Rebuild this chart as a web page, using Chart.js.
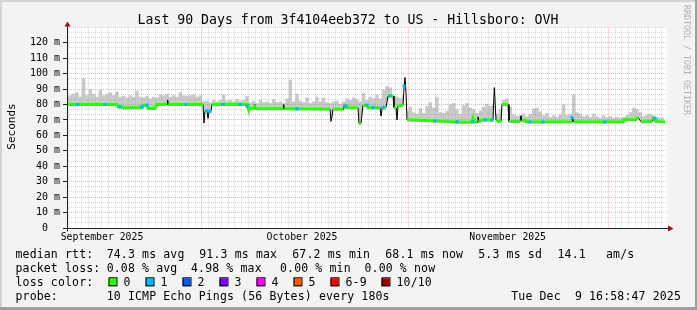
<!DOCTYPE html>
<html><head><meta charset="utf-8">
<script src="https://cdn.jsdelivr.net/npm/chart.js@4/dist/chart.umd.min.js"></script>
<style>html,body{margin:0;padding:0;background:#f3f3f3;}canvas{display:block;}</style>
</head><body>
<canvas id="c" width="697" height="310" style="width:697px;height:310px"></canvas>
<script>
// ---------- data ----------
const chartTitle = 'Last 90 Days from 3f4104eeb372 to US - Hillsboro: OVH';
const yAxisTitle = 'Seconds';
const monthLabels = ['September 2025', 'October 2025', 'November 2025'];
const monthLabelDays = [5.25, 35.25, 66.1];      // days since start of window
const monthStartDays = [20.2, 51.2, 81.2];       // Oct 1, Nov 1, Dec 1
const firstMidnight = 0.2;                         // first daily grid line
const yMax = 130;

// smoke (max rtt envelope), one value every half day
const smokeStep = 0.5;
const smokeMax = [
  85, 86, 87, 88, 85, 97, 86, 90, 87, 85,
  89.5, 86, 87, 88, 86, 88.5, 85, 85.5, 84.5, 86,
  85, 89, 85, 84.5, 85.5, 84, 85, 84.5, 86.5, 86,
  87, 85, 86, 85, 88, 86, 85.5, 86, 86.5, 85,
  86, 82, 82.5, 81.5, 83, 82, 83, 86.5, 82.5, 83,
  82, 83.5, 82.5, 83, 85.5, 81.5, 82.5, 81, 83, 81.5,
  82, 81, 83.5, 81.5, 82, 81, 84, 96, 82, 87,
  82.5, 81.5, 84.5, 81, 82, 85, 82, 84.5, 81.5, 81,
  82, 82.5, 80.5, 82, 84, 83, 84.5, 83.5, 82, 87.5,
  83, 85, 84, 86.5, 84, 89.5, 92, 91, 86, 85,
  84, 86, 76, 78.5, 75, 74, 77.5, 74.5, 79, 81.5,
  78, 85, 75, 74.5, 76, 80, 81, 77, 74, 79.5,
  81, 78, 77, 74.5, 76, 78.5, 80.5, 79, 80, 74,
  77, 83, 84, 78.5, 73.5, 72.5, 73, 74, 72.5, 74,
  77.5, 78, 75.5, 73, 74.5, 72, 73, 72, 73.5, 80,
  73, 74, 86.5, 75, 74, 72.5, 73, 72, 74, 72.5,
  71.5, 73, 72, 72.5, 71.5, 72, 71.5, 72, 73, 75,
  78, 77, 75, 72.5, 73.5, 74, 73, 72, 71.5, 72
];

// median rtt (ms) at change points
const medDay = [
  0, 7.5, 7.65, 8.25, 8.4, 11.25, 11.4, 12, 12.15, 13.2,
  13.5, 15, 15.1, 15.2, 20.4, 20.55, 20.7, 21, 21.15, 21.3,
  21.6, 21.75, 27, 27.15, 27.3, 27.45, 28.05, 28.2, 28.35, 32.4,
  32.5, 32.6, 39.45, 39.6, 39.75, 39.9, 41.4, 41.55, 41.7, 42,
  43.65, 43.8, 44.1, 44.4, 45, 45.15, 46.95, 47.1, 47.3, 47.85,
  48.15, 48.9, 49.05, 49.35, 49.5, 49.65, 50.4, 50.55, 50.7, 50.85,
  51, 51.15, 54.45, 58.95, 60.75, 60.9, 61.05, 61.5, 61.65, 61.8,
  62, 62.4, 63.9, 64.1, 64.35, 64.65, 65.1, 65.25, 66.15, 66.3,
  67.95, 68.1, 68.25, 68.7, 68.85, 75.75, 75.8, 76, 83.4, 83.55,
  85.35, 85.65, 86.1, 87.75, 87.9, 88.05, 88.4, 89.7
];
const medVal = [
  80, 80, 78.6, 78.4, 78, 78, 79.5, 79.5, 77.5, 77.5,
  80, 80, 83, 80, 80, 68, 75.5, 76, 71, 75.5,
  76, 80, 80, 78, 76.5, 77.5, 77.5, 80, 77.2, 77.2,
  80, 77.2, 77, 69, 72, 77, 77, 80, 79.5, 78,
  78, 67.5, 68, 79.5, 79.5, 78, 78, 72.5, 78, 78,
  85.5, 85.5, 78, 78, 70, 79, 79.5, 90, 97.5, 88,
  70, 70, 69.5, 68.6, 68.6, 71, 68.6, 68.6, 72, 68.5,
  69.5, 70, 70, 91, 70, 69, 69, 80, 80, 69,
  69, 72.8, 69, 70, 68.7, 68.7, 72, 68.7, 68.7, 70.2,
  70.2, 71.7, 68.8, 68.8, 72, 70, 69, 68.7
];

// samples with 1/10 packet loss (drawn in the loss-1 colour)
const loss1Day = [1.65, 5.7, 7.95, 11.25, 12.0, 17.85, 21.0, 21.45, 23.4, 25.95,
  27.0, 34.5, 41.85, 45.0, 45.9, 47.4, 48.45, 50.55, 55.2, 58.5,
  60.9, 62.7, 63.75, 69.45, 71.4, 75.75, 80.7, 88.2];
const loss1Val = [80, 80, 78.5, 78.5, 79.5, 80, 76, 75.5, 80, 80,
  79, 77.2, 79, 79.5, 78, 78, 85.5, 92, 69.3, 68.8,
  69, 70, 70, 68.7, 68.7, 71.5, 68.7, 71];

// legend texts
const medianStats = ['74.3 ms avg', '91.3 ms max', '67.2 ms min', '68.1 ms now', '5.3 ms sd', '14.1', 'am/s'];
const lossStats = ['0.08 % avg', '4.98 % max', '0.00 % min', '0.00 % now'];
const lossLabels = ['0', '1', '2', '3', '4', '5', '6-9', '10/10'];
const lossColors = ['#26ff00', '#00b8ff', '#0059ff', '#7e00ff', '#ff00ff', '#ff5500', '#ff0000', '#a10000'];
const probeText = '10 ICMP Echo Pings (56 Bytes) every 180s';
const stampText = 'Tue Dec  9 16:58:47 2025';
const sideText = 'RRDTOOL / TOBI OETIKER';

// ---------- rendering ----------
const MONO = '"DejaVu Sans Mono", monospace';
const GREEN = lossColors[0], CYAN = lossColors[1];
const MINOR = 'rgba(165,165,165,0.42)';
const MAJOR = 'rgba(220,70,70,0.42)';
const near = (a, b) => Math.abs(a - b) < 1e-6;

const xTicks = [];
for (let d = firstMidnight; d <= 90; d += 1) xTicks.push(+d.toFixed(4));
monthLabelDays.forEach(d => xTicks.push(d));
xTicks.sort((a, b) => a - b);

const yTicks = [];
for (let k = 0; k * 10 / 3 <= yMax + 1e-9; k++) yTicks.push(k * 10 / 3);

const rrdPlugin = {
  id: 'rrd',
  beforeDraw(chart) {
    const { ctx, chartArea: a } = chart;
    ctx.save();
    ctx.fillStyle = '#f3f3f3'; ctx.fillRect(0, 0, 697, 310);
    ctx.fillStyle = '#d4d4d4'; ctx.fillRect(0, 0, 697, 2); ctx.fillRect(0, 0, 2, 310);
    ctx.fillStyle = '#9e9e9e'; ctx.fillRect(0, 307, 697, 3); ctx.fillRect(695, 0, 2, 310);
    ctx.fillStyle = '#ffffff'; ctx.fillRect(a.left, a.top, a.right - a.left, a.bottom - a.top);
    ctx.restore();
  },
  afterDraw(chart) {
    const { ctx, chartArea: a } = chart;
    const yS = chart.scales.y;
    ctx.save();
    const x0 = Math.round(a.left) + 0.5, y0 = Math.round(yS.getPixelForValue(0)) + 0.5;
    ctx.strokeStyle = '#202020'; ctx.lineWidth = 1;
    ctx.beginPath(); ctx.moveTo(x0, y0 + 3); ctx.lineTo(x0, a.top - 2); ctx.stroke();
    ctx.beginPath(); ctx.moveTo(x0 - 4, y0); ctx.lineTo(a.right + 2, y0); ctx.stroke();
    ctx.fillStyle = '#9a1010';
    ctx.beginPath(); ctx.moveTo(x0 - 3, a.top - 1); ctx.lineTo(x0 + 3, a.top - 1); ctx.lineTo(x0, a.top - 6); ctx.closePath(); ctx.fill();
    ctx.beginPath(); ctx.moveTo(a.right + 1, y0 - 3); ctx.lineTo(a.right + 1, y0 + 3); ctx.lineTo(a.right + 6.5, y0); ctx.closePath(); ctx.fill();

    ctx.fillStyle = '#000';
    ctx.textBaseline = 'alphabetic';
    // title
    ctx.font = '13.2px ' + MONO; ctx.textAlign = 'center';
    ctx.fillText(chartTitle, 348, 24);
    // y title
    ctx.save(); ctx.translate(15, 126.5); ctx.rotate(-Math.PI / 2);
    ctx.font = '11px ' + MONO; ctx.fillText(yAxisTitle, 0, 0); ctx.restore();
    // side text
    ctx.save(); ctx.translate(683.5, 5); ctx.rotate(Math.PI / 2);
    ctx.font = '8.3px ' + MONO; ctx.fillStyle = '#b0b0b0'; ctx.textAlign = 'left';
    ctx.fillText(sideText, 0, 0); ctx.restore();

    // legend
    ctx.font = '11.5px ' + MONO; ctx.textAlign = 'left';
    try { ctx.letterSpacing = '0.15px'; } catch (e) {}
    const r1 = 258.3, r2 = 272.3, r3 = 286.3, r4 = 300;
    ctx.fillText('median rtt:', 15.5, r1);
    const mx = [106.7, 199.3, 292.3, 385.3, 478.3, 557.5, 606];
    medianStats.forEach((t, i) => ctx.fillText(t, mx[i], r1));
    ctx.fillText('packet loss:', 15.5, r2);
    const lx = [106.7, 191, 280, 364.5];
    lossStats.forEach((t, i) => ctx.fillText(t, lx[i], r2));
    ctx.fillText('loss color:', 15.5, r3);
    const sx = [108.5, 145.5, 182.5, 219.5, 256.5, 293.5, 330.5, 381.5];
    lossLabels.forEach((t, i) => {
      ctx.fillStyle = lossColors[i];
      ctx.fillRect(sx[i], r3 - 8, 8, 8);
      ctx.strokeStyle = '#000'; ctx.strokeRect(sx[i] + 0.5, r3 - 8.5, 8, 8);
      ctx.fillStyle = '#000';
      ctx.fillText(t, sx[i] + 15, r3);
    });
    ctx.fillText('probe:', 15.5, r4);
    ctx.fillText(probeText, 106.7, r4);
    ctx.textAlign = 'right';
    ctx.fillText(stampText, 681, r4);
    ctx.restore();
  }
};

new Chart(document.getElementById('c'), {
  type: 'line',
  data: {
    datasets: [
      { // 0: loss-1 markers
        label: 'loss 1', data: loss1Day.map((d, i) => ({ x: d, y: loss1Val[i] })),
        showLine: false, pointStyle: 'rect', pointRadius: 2.2, pointBorderWidth: 0,
        pointBackgroundColor: CYAN, order: 0
      },
      { // 1: median coloured by loss
        label: 'median', data: medDay.map((d, i) => ({ x: d, y: medVal[i] })),
        borderColor: GREEN, borderWidth: 3, pointRadius: 0, order: 1,
        segment: { borderColor: c => Math.abs(c.p1.parsed.y - c.p0.parsed.y) > 2.5 ? 'rgba(0,0,0,0)' : GREEN }
      },
      { // 2: thin median line
        label: 'median line', data: medDay.map((d, i) => ({ x: d, y: medVal[i] })),
        borderColor: '#000', borderWidth: 1, pointRadius: 0, order: 2
      },
      { // 3: smoke
        label: 'smoke', data: smokeMax.map((v, i) => ({ x: i * smokeStep, y: v })),
        borderWidth: 0, borderColor: 'rgba(0,0,0,0)', pointRadius: 0, stepped: 'middle', order: 3,
        fill: { target: 2, above: 'rgba(150,150,150,0.5)', below: 'rgba(0,0,0,0)' }
      }
    ]
  },
  options: {
    responsive: false, devicePixelRatio: 1, animation: false,
    layout: { padding: { top: 27.4, right: 30, bottom: 62, left: 0 } },
    plugins: { legend: { display: false }, tooltip: { enabled: false }, filler: { propagate: false } },
    elements: { line: { tension: 0 } },
    scales: {
      x: {
        type: 'linear', min: 0, max: 90,
        afterBuildTicks: s => { s.ticks = xTicks.map(v => ({ value: v })); },
        afterFit: s => { s.height = 20; },
        border: { display: false, dash: [1, 1] },
        grid: {
          drawTicks: false, lineWidth: 1,
          color: c => {
            const v = c.tick.value;
            if (monthLabelDays.some(m => near(m, v))) return 'rgba(0,0,0,0)';
            if (monthStartDays.some(m => Math.abs(m - v) < 0.01)) return MAJOR;
            return MINOR;
          }
        },
        ticks: {
          autoSkip: false, maxRotation: 0, padding: 4, color: '#000',
          font: { family: 'DejaVu Sans Mono', size: 9.8 },
          callback: v => { const i = monthLabelDays.findIndex(m => near(m, v)); return i >= 0 ? monthLabels[i] : ''; }
        }
      },
      y: {
        min: 0, max: yMax,
        afterBuildTicks: s => { s.ticks = yTicks.map(v => ({ value: v })); },
        afterFit: s => { s.width = 67; },
        border: { display: false, dash: [1, 1] },
        grid: {
          lineWidth: 1, tickLength: 4, tickWidth: 1,
          color: c => { const k = Math.round(c.tick.value * 3 / 10); return (k % 3 === 0 && k * 10 / 3 < yMax - 1e-6) ? MAJOR : MINOR; },
          tickColor: c => { const k = Math.round(c.tick.value * 3 / 10); return (k % 3 === 0 && k * 10 / 3 < yMax - 1e-6) ? '#202020' : 'rgba(0,0,0,0)'; }
        },
        ticks: {
          autoSkip: false, padding: 3, color: '#000',
          font: { family: 'DejaVu Sans Mono', size: 10 },
          callback: v => {
            const k = Math.round(v * 3 / 10);
            if (k % 3 !== 0 || v > yMax - 1e-6) return '';
            const n = Math.round(v);
            return n === 0 ? '0  ' : n + ' m';
          }
        }
      }
    }
  },
  plugins: [rrdPlugin]
});
</script>
</body></html>
